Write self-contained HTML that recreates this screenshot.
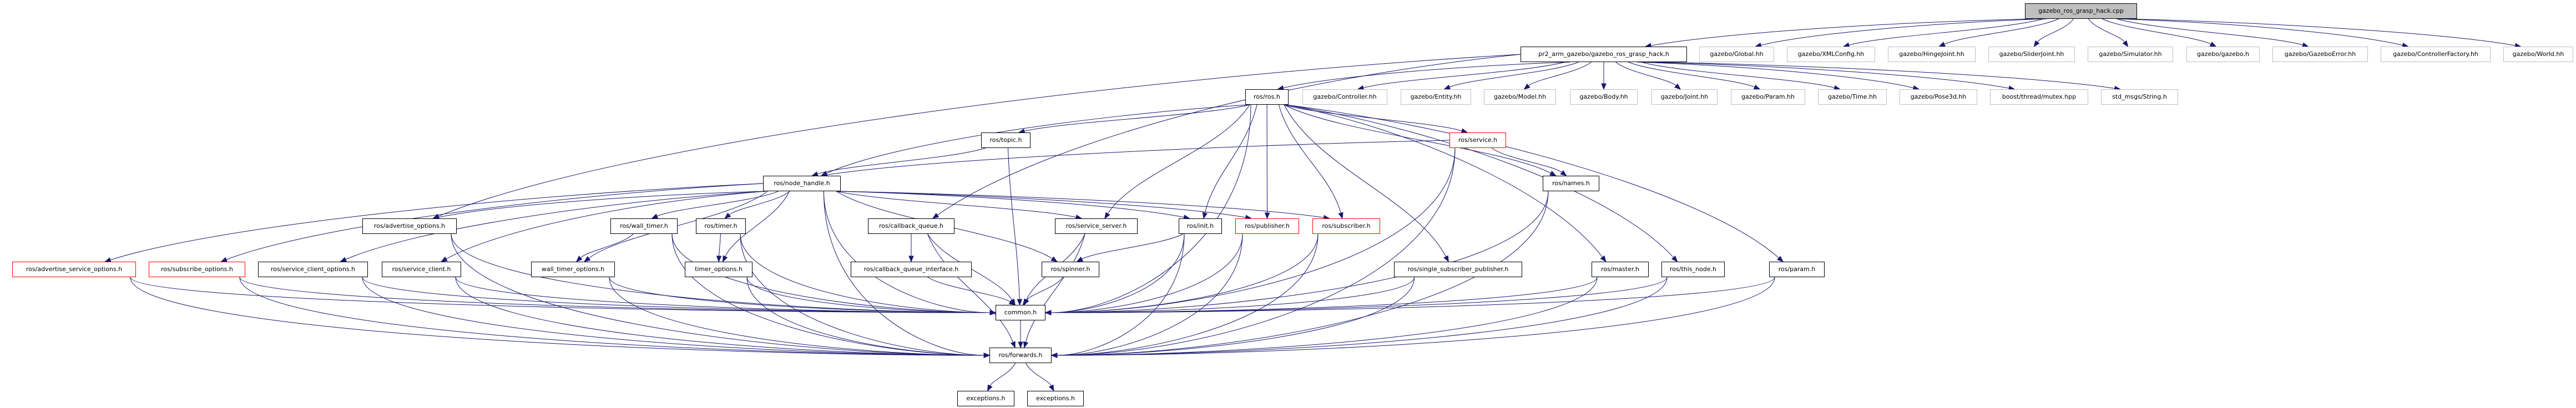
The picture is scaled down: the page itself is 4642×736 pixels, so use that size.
<!DOCTYPE html>
<html><head><meta charset="utf-8"><style>
html,body{margin:0;padding:0;background:#fff;}
#c{position:relative;width:4642px;height:736px;overflow:hidden;}
.n{position:absolute;height:28px;box-sizing:border-box;border:1px solid #000;background:#fff;font:11px "DejaVu Sans","Liberation Sans",sans-serif;line-height:26px;text-align:center;white-space:nowrap;color:#000;}
.g{border-color:#bfbfbf;}
.r{border-color:#ff0000;}
.root{background:#bfbfbf;}
svg{position:absolute;left:0;top:0;}
</style></head><body><div id="c">
<svg id="s" width="4642" height="736"></svg>
<div class="n root" id="root" style="left:3649px;top:6px;width:202px">gazebo_ros_grasp_hack.cpp</div>
<div class="n" id="pr2" style="left:2740px;top:84px;width:300px">pr2_arm_gazebo/gazebo_ros_grasp_hack.h</div>
<div class="n g" id="Global" style="left:3062px;top:84px;width:135px">gazebo/Global.hh</div>
<div class="n g" id="XML" style="left:3220px;top:84px;width:159px">gazebo/XMLConfig.hh</div>
<div class="n g" id="Hinge" style="left:3402px;top:84px;width:158px">gazebo/HingeJoint.hh</div>
<div class="n g" id="Slider" style="left:3583px;top:84px;width:156px">gazebo/SliderJoint.hh</div>
<div class="n g" id="Sim" style="left:3762px;top:84px;width:154px">gazebo/Simulator.hh</div>
<div class="n g" id="gzh" style="left:3940px;top:84px;width:132px">gazebo/gazebo.h</div>
<div class="n g" id="GErr" style="left:4095px;top:84px;width:172px">gazebo/GazeboError.hh</div>
<div class="n g" id="CF" style="left:4290px;top:84px;width:198px">gazebo/ControllerFactory.hh</div>
<div class="n g" id="World" style="left:4511px;top:84px;width:126px">gazebo/World.hh</div>
<div class="n" id="rosh" style="left:2244px;top:161px;width:78px">ros/ros.h</div>
<div class="n g" id="Ctrl" style="left:2347px;top:161px;width:153px">gazebo/Controller.hh</div>
<div class="n g" id="Ent" style="left:2524px;top:161px;width:127px">gazebo/Entity.hh</div>
<div class="n g" id="Model" style="left:2674px;top:161px;width:130px">gazebo/Model.hh</div>
<div class="n g" id="Body" style="left:2829px;top:161px;width:122px">gazebo/Body.hh</div>
<div class="n g" id="Joint" style="left:2976px;top:161px;width:119px">gazebo/Joint.hh</div>
<div class="n g" id="Param" style="left:3119px;top:161px;width:134px">gazebo/Param.hh</div>
<div class="n g" id="Time" style="left:3276px;top:161px;width:124px">gazebo/Time.hh</div>
<div class="n g" id="Pose" style="left:3423px;top:161px;width:140px">gazebo/Pose3d.hh</div>
<div class="n g" id="mutex" style="left:3586px;top:161px;width:177px">boost/thread/mutex.hpp</div>
<div class="n g" id="Str" style="left:3786px;top:161px;width:139px">std_msgs/String.h</div>
<div class="n" id="topic" style="left:1768px;top:239px;width:89px">ros/topic.h</div>
<div class="n r" id="service" style="left:2612px;top:239px;width:102px">ros/service.h</div>
<div class="n" id="nh" style="left:1375px;top:317px;width:140px">ros/node_handle.h</div>
<div class="n" id="names" style="left:2780px;top:317px;width:102px">ros/names.h</div>
<div class="n" id="advo" style="left:653px;top:394px;width:170px">ros/advertise_options.h</div>
<div class="n" id="wt" style="left:1100px;top:394px;width:121px">ros/wall_timer.h</div>
<div class="n" id="tm" style="left:1254px;top:394px;width:90px">ros/timer.h</div>
<div class="n" id="cbq" style="left:1564px;top:394px;width:156px">ros/callback_queue.h</div>
<div class="n" id="ss" style="left:1901px;top:394px;width:149px">ros/service_server.h</div>
<div class="n" id="init" style="left:2124px;top:394px;width:78px">ros/init.h</div>
<div class="n r" id="pub" style="left:2226px;top:394px;width:115px">ros/publisher.h</div>
<div class="n r" id="sub" style="left:2365px;top:394px;width:122px">ros/subscriber.h</div>
<div class="n r" id="aso" style="left:22px;top:472px;width:223px">ros/advertise_service_options.h</div>
<div class="n r" id="so" style="left:268px;top:472px;width:174px">ros/subscribe_options.h</div>
<div class="n" id="sco" style="left:465px;top:472px;width:198px">ros/service_client_options.h</div>
<div class="n" id="sc" style="left:688px;top:472px;width:143px">ros/service_client.h</div>
<div class="n" id="wto" style="left:957px;top:472px;width:151px">wall_timer_options.h</div>
<div class="n" id="tmo" style="left:1234px;top:472px;width:122px">timer_options.h</div>
<div class="n" id="cbqi" style="left:1533px;top:472px;width:218px">ros/callback_queue_interface.h</div>
<div class="n" id="spin" style="left:1877px;top:472px;width:104px">ros/spinner.h</div>
<div class="n" id="ssp" style="left:2512px;top:472px;width:231px">ros/single_subscriber_publisher.h</div>
<div class="n" id="master" style="left:2868px;top:472px;width:103px">ros/master.h</div>
<div class="n" id="tn" style="left:2994px;top:472px;width:114px">ros/this_node.h</div>
<div class="n" id="param" style="left:3188px;top:472px;width:100px">ros/param.h</div>
<div class="n" id="common" style="left:1794px;top:550px;width:90px">common.h</div>
<div class="n" id="fwd" style="left:1783px;top:627px;width:112px">ros/forwards.h</div>
<div class="n" id="ex1" style="left:1725px;top:705px;width:103px">exceptions.h</div>
<div class="n" id="ex2" style="left:1851px;top:705px;width:102px">exceptions.h</div>
</div>
<script>
var E={root:"pr2 Global XML Hinge Slider Sim gzh GErr CF World",
pr2:"rosh Ctrl Ent Model Body Joint Param Time Pose mutex Str advo cbq",
rosh:"nh topic ss common init pub sub ssp service names master tn param",
topic:"nh common",service:"nh names common fwd",
nh:"advo aso so sco sc wt wto tm tmo spin ss init pub sub common fwd",
advo:"common fwd",wt:"wto common fwd",tm:"tmo common fwd",cbq:"cbqi common fwd",cbqi:"common",
ss:"common fwd",init:"spin common fwd",pub:"common fwd",sub:"common fwd",
aso:"common fwd",so:"common fwd",sco:"common fwd",sc:"common fwd",wto:"common fwd",tmo:"common fwd",
spin:"common",ssp:"common fwd",master:"common fwd",tn:"common fwd",param:"common fwd",names:"common fwd",
common:"fwd",fwd:"ex1 ex2"};
function box(id){var e=document.getElementById(id);var x=e.offsetLeft,y=e.offsetTop,w=e.offsetWidth,h=e.offsetHeight;return{x:x,y:y,w:w,h:h,cx:x+w/2,cy:y+h/2};}
var s=document.getElementById('s'),out='',C='#191970';
for(var a in E){var A=box(a);E[a].split(' ').forEach(function(b){var B=box(b);
var sx,sy,tx,ty,c1x,c1y,c2x,c2y;
var dx=B.cx-A.cx;
if(B.y<=A.y){
 sx=A.x;sy=A.cy;tx=B.x+B.w;ty=B.cy;c1x=sx-(sx-tx)*0.4;c1y=sy;c2x=tx+(sx-tx)*0.3;c2y=ty;}
else if(Math.abs(dx)>300&&(b=='common'||b=='fwd')){
 sx=A.cx+Math.max(-A.w/2+10,Math.min(A.w/2-10,dx*0.1));sy=A.y+A.h;
 tx=dx>0?B.x:B.x+B.w;ty=B.cy;
 c1x=sx;c1y=sy+(ty-sy)*0.7;c2x=tx-(tx-sx)*0.35;c2y=ty;}
else if(Math.abs(dx)>600){
 sx=A.cx+Math.max(-A.w/2+5,Math.min(A.w/2-5,dx*0.1));sy=A.y+A.h;
 if(Math.abs(dx)>1000){sx=dx<0?A.x:A.x+A.w;sy=A.cy;}
 tx=B.cx+(dx<0?B.w/4:-B.w/4);ty=B.y;
 c1x=sx+dx*0.35;c1y=sy+(ty-sy)*0.15;c2x=tx-dx*0.15;c2y=ty-(ty-sy)*0.45;}
else{
 sx=A.cx+Math.max(-A.w/2+8,Math.min(A.w/2-8,dx*0.15));sy=A.y+A.h;
 tx=B.cx-Math.max(-B.w/3,Math.min(B.w/3,dx*0.05));ty=B.y;
 c1x=sx+(tx-sx)*0.2;c1y=sy+(ty-sy)*0.4;c2x=tx-(tx-sx)*0.2;c2y=ty-(ty-sy)*0.4;}
var vx=tx-c2x,vy=ty-c2y,L=Math.sqrt(vx*vx+vy*vy)||1;vx/=L;vy/=L;
var bx=tx-vx*10,by=ty-vy*10;
out+='<path d="M'+sx+','+sy+' C'+c1x+','+c1y+' '+c2x+','+c2y+' '+bx+','+by+'" fill="none" stroke="'+C+'" stroke-width="1"/>';
out+='<polygon points="'+tx+','+ty+' '+(bx-vy*4)+','+(by+vx*4)+' '+(bx+vy*4)+','+(by-vx*4)+'" fill="'+C+'" stroke="'+C+'"/>';
});}
s.innerHTML=out;
</script>
</body></html>
